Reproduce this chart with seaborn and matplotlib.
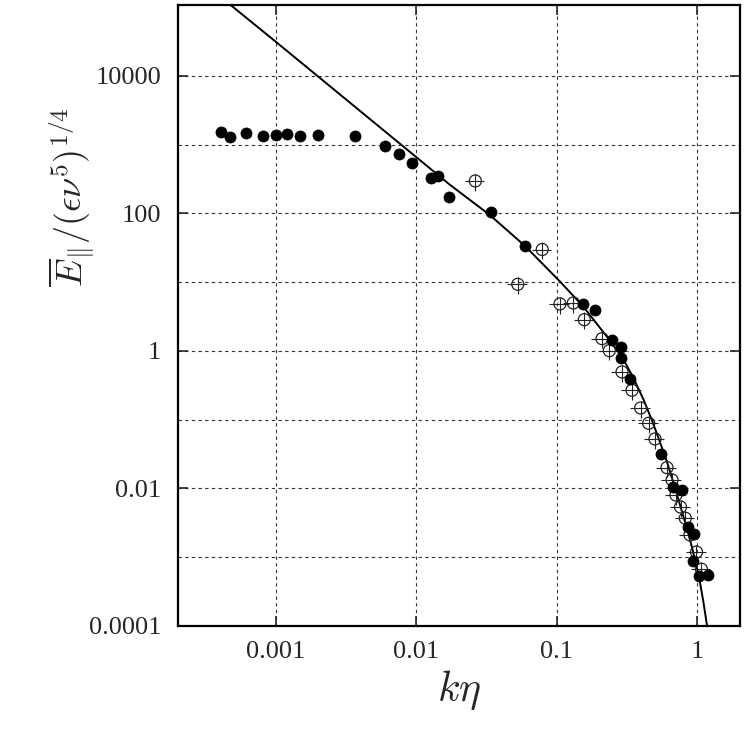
import numpy as np
import pandas as pd
import matplotlib
matplotlib.use('Agg')
import matplotlib.pyplot as plt
import matplotlib.ticker as mticker
import seaborn as sns

# filled circles (kη, spectrum)
filled_k = [4.04e-4, 4.70e-4, 6.14e-4, 8.04e-4, 1.0e-3, 1.198e-3, 1.49e-3, 1.983e-3, 3.66e-3,
            6.01e-3, 7.49e-3, 9.36e-3, 0.01273, 0.0142, 0.01718, 0.0339, 0.0598, 0.1533,
            0.1882, 0.2466, 0.2897, 0.2873, 0.3358, 0.5539, 0.6745, 0.788, 0.859, 0.960,
            0.937, 1.042, 1.204]
filled_E = [1549, 1309, 1497, 1327, 1400, 1433, 1327, 1400, 1327,
            969, 741, 537, 325, 348, 175, 105, 33.7, 4.88,
            3.91, 1.43, 1.156, 0.791, 0.395, 0.0314, 0.01035, 0.0095, 0.00271, 0.00221,
            8.81e-4, 5.33e-4, 5.46e-4]

# open circles with error bars
open_k = [0.02632, 0.0789, 0.0528, 0.1056, 0.1314, 0.1574, 0.2104, 0.2372, 0.2922, 0.3443,
          0.397, 0.453, 0.502, 0.611, 0.664, 0.708, 0.763, 0.825, 0.891, 0.992, 1.076]
open_E = [297, 29.9, 9.33, 4.83, 4.99, 2.85, 1.51, 1.01, 0.495, 0.268,
          0.148, 0.0887, 0.0525, 0.0201, 0.0133, 0.00804, 0.00538, 0.00369, 0.00211, 0.00119, 6.68e-4]
open_xerr_rel = 0.16
open_yerr_rel = 0.28

# model curve
curve_k = [3.0e-4, 1.0e-3, 0.0174, 0.0335, 0.0595, 0.1057, 0.155, 0.240, 0.2985, 0.3516,
           0.4144, 0.4756, 0.530, 0.6085, 0.678, 0.757, 0.845, 0.917, 0.9954, 1.0505,
           1.109, 1.172, 1.26]
curve_E = [2.3e5, 3.12e4, 259.8, 94.4, 33.6, 10.2, 4.41, 1.413, 0.759, 0.407,
           0.1995, 0.1, 0.055, 0.0251, 0.0123, 0.00575, 0.00269, 0.001445, 7.24e-4, 4.27e-4,
           2.29e-4, 1.096e-4, 4.0e-5]

x_ticks = [0.001, 0.01, 0.1, 1]
y_ticks = [1e-4, 1e-2, 1, 1e2, 1e4]
y_grid_minor = [1e-3, 1e-1, 10, 1e3]

sns.set_style('ticks')
plt.rcParams['font.family'] = ['Liberation Serif', 'DejaVu Serif']
plt.rcParams['mathtext.fontset'] = 'cm'

fig = plt.figure(figsize=(7.47, 7.52), dpi=100)
ax = fig.add_axes([0.2383, 0.1676, 0.7523, 0.8258])

curve_df = pd.DataFrame({'k': curve_k, 'E': curve_E})
filled_df = pd.DataFrame({'k': filled_k, 'E': filled_E})
open_df = pd.DataFrame({'k': open_k, 'E': open_E})

sns.lineplot(data=curve_df, x='k', y='E', ax=ax, color='black', lw=1.4,
             sort=False, estimator=None, zorder=3)

ok = np.array(open_k)
oE = np.array(open_E)
ax.errorbar(ok, oE, xerr=ok * open_xerr_rel, yerr=oE * open_yerr_rel, fmt='none',
            ecolor='#222222', elinewidth=0.8, capsize=0, zorder=4)
sns.scatterplot(data=open_df, x='k', y='E', ax=ax, marker='o', s=75,
                facecolor='none', edgecolor='#222222', linewidth=0.9, zorder=5)
sns.scatterplot(data=filled_df, x='k', y='E', ax=ax, marker='o', s=64,
                color='black', edgecolor='black', linewidth=0.5, zorder=6)

ax.set_xscale('log')
ax.set_yscale('log')
ax.set_xlim(2.0e-4, 2.025)
ax.set_ylim(1e-4, 1.078e5)

ax.xaxis.set_major_locator(mticker.FixedLocator(x_ticks))
ax.xaxis.set_minor_locator(mticker.NullLocator())
ax.yaxis.set_major_locator(mticker.FixedLocator(y_ticks))
ax.yaxis.set_minor_locator(mticker.FixedLocator(y_grid_minor))
fmt = mticker.FuncFormatter(lambda v, p: '%g' % v)
ax.xaxis.set_major_formatter(fmt)
ax.yaxis.set_major_formatter(fmt)
ax.yaxis.set_minor_formatter(mticker.NullFormatter())

ax.tick_params(which='major', direction='in', length=7, width=1.2, top=True, right=True,
               labelsize=19, pad=12)
ax.tick_params(axis='x', which='major', pad=11)
ax.tick_params(which='minor', length=0)
ax.grid(True, which='both', color='#333333', ls=(0, (3, 3)), lw=0.8)

for s in ax.spines.values():
    s.set_linewidth(1.6)
    s.set_color('black')

ax.set_xlabel(r'$k\eta$', fontsize=30, labelpad=4)
ax.set_ylabel(r'$\overline{E}_{\|}/(\epsilon\nu^5)^{1/4}$', fontsize=26, va='center')
ax.yaxis.set_label_coords(-0.19, 0.69)

fig.savefig('out.png', dpi=100)
